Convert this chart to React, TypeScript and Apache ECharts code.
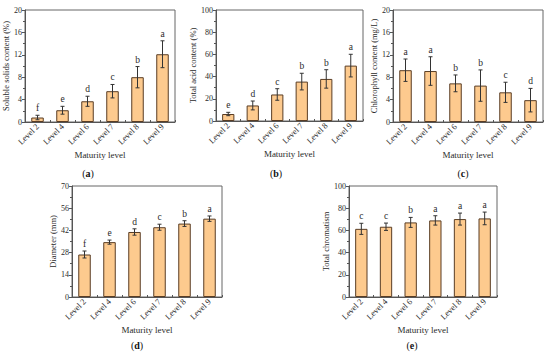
import React, { useEffect, useRef } from "react";
import * as echarts from "echarts";

const categories = ["Level 2", "Level 4", "Level 6", "Level 7", "Level 8", "Level 9"];

const solubleMeans = [0.8, 2.1, 3.7, 5.5, 8.0, 12.1];
const solubleErr = [0.4, 0.7, 0.9, 1.2, 1.9, 2.4];
const solubleLetters = ["f", "e", "d", "c", "b", "a"];

const acidMeans = [6.3, 14.0, 23.9, 35.5, 37.9, 49.9];
const acidErr = [1.5, 4.0, 5.2, 7.5, 8.3, 10.2];
const acidLetters = ["e", "d", "c", "b", "b", "a"];

const chloroMeans = [9.25, 9.1, 6.9, 6.5, 5.3, 3.9];
const chloroErr = [2.0, 2.55, 1.5, 2.8, 1.8, 2.1];
const chloroLetters = ["a", "a", "b", "b", "c", "d"];

const diameterMeans = [26.8, 34.6, 41.0, 44.0, 46.3, 49.4];
const diameterErr = [2.2, 1.3, 2.0, 1.9, 1.8, 1.7];
const diameterLetters = ["f", "e", "d", "c", "b", "a"];

const chromaMeans = [61.4, 63.3, 67.2, 69.0, 70.2, 70.8];
const chromaErr = [5.0, 3.3, 4.5, 4.2, 5.4, 5.7];
const chromaLetters = ["c", "c", "b", "a", "a", "a"];

const FONT = '"Liberation Serif", "DejaVu Serif", serif';
const BAR_FILL = "#FDCA8E";
const BAR_EDGE = "#5a3d24";
const INK = "#2a2a2a";

type Panel = {
  tag: string;
  yName: string;
  max: number;
  interval: number;
  means: number[];
  errs: number[];
  letters: string[];
  grid: { left: number; top: number; width: number; height: number };
  yNameGap: number;
  tagPos: [number, number];
};

const panels: Panel[] = [
  {
    tag: "a", yName: "Soluble solids content (%)", max: 20, interval: 4,
    means: solubleMeans, errs: solubleErr, letters: solubleLetters,
    grid: { left: 25, top: 10, width: 150, height: 112 }, yNameGap: 11, tagPos: [88, 173],
  },
  {
    tag: "b", yName: "Total acid content (%)", max: 100, interval: 20,
    means: acidMeans, errs: acidErr, letters: acidLetters,
    grid: { left: 216, top: 10, width: 147, height: 111 }, yNameGap: 18, tagPos: [276, 173],
  },
  {
    tag: "c", yName: "Chlorophyll content (mg/L)", max: 20, interval: 4,
    means: chloroMeans, errs: chloroErr, letters: chloroLetters,
    grid: { left: 393, top: 10, width: 150, height: 112 }, yNameGap: 9, tagPos: [463, 173],
  },
  {
    tag: "d", yName: "Diameter (mm)", max: 70, interval: 14,
    means: diameterMeans, errs: diameterErr, letters: diameterLetters,
    grid: { left: 72, top: 186, width: 150, height: 111 }, yNameGap: 15, tagPos: [137, 345],
  },
  {
    tag: "e", yName: "Total chromatism", max: 100, interval: 20,
    means: chromaMeans, errs: chromaErr, letters: chromaLetters,
    grid: { left: 349, top: 186, width: 148, height: 111 }, yNameGap: 18, tagPos: [412, 345],
  },
];

export default function App() {
  const ref = useRef<HTMLDivElement>(null);

  useEffect(() => {
    if (!ref.current) return;
    const chart = echarts.init(ref.current, undefined, { renderer: "svg" });

    const grid: any[] = [];
    const xAxis: any[] = [];
    const yAxis: any[] = [];
    const series: any[] = [];
    const graphic: any[] = [];

    panels.forEach((p, i) => {
      grid.push({
        ...p.grid,
        show: true,
        borderColor: "#666",
        borderWidth: 1,
        backgroundColor: "transparent",
      });
      xAxis.push({
        type: "category",
        gridIndex: i,
        data: categories,
        name: "Maturity level",
        nameLocation: "middle",
        nameGap: 28,
        nameTextStyle: { fontFamily: FONT, fontSize: 9, color: INK },
        axisLine: { lineStyle: { color: "#555", width: 1 } },
        axisTick: { show: true, length: 2, inside: true, lineStyle: { color: "#555" } },
        axisLabel: {
          rotate: 45,
          fontFamily: FONT,
          fontSize: 8.5,
          color: INK,
          margin: 3,
          interval: 0,
        },
      });
      yAxis.push({
        type: "value",
        gridIndex: i,
        min: 0,
        max: p.max,
        interval: p.interval,
        name: p.yName,
        nameLocation: "middle",
        nameGap: p.yNameGap,
        nameTextStyle: { fontFamily: FONT, fontSize: 8.5, color: INK },
        axisLine: { show: true, lineStyle: { color: "#555", width: 1 } },
        axisTick: { show: true, length: 3, lineStyle: { color: "#555" } },
        minorTick: { show: true, splitNumber: 2, length: 2, lineStyle: { color: "#555" } },
        splitLine: { show: false },
        axisLabel: { fontFamily: FONT, fontSize: 8, color: INK, margin: 3 },
      });
      series.push({
        type: "bar",
        xAxisIndex: i,
        yAxisIndex: i,
        data: p.means,
        barWidth: "50%",
        itemStyle: { color: BAR_FILL, borderColor: BAR_EDGE, borderWidth: 1 },
        z: 2,
      });
      const letters = p.letters;
      series.push({
        type: "custom",
        xAxisIndex: i,
        yAxisIndex: i,
        z: 5,
        data: p.means.map((m, k) => [k, m, p.errs[k]]),
        renderItem: (params: any, api: any) => {
          const x = api.value(0);
          const m = api.value(1);
          const e = api.value(2);
          const top = api.coord([x, m + e]);
          const bot = api.coord([x, m - e]);
          const cap = 2;
          const st = { stroke: "#333", lineWidth: 1 };
          return {
            type: "group",
            children: [
              { type: "line", shape: { x1: top[0], y1: top[1], x2: bot[0], y2: bot[1] }, style: st },
              { type: "line", shape: { x1: top[0] - cap, y1: top[1], x2: top[0] + cap, y2: top[1] }, style: st },
              { type: "line", shape: { x1: bot[0] - cap, y1: bot[1], x2: bot[0] + cap, y2: bot[1] }, style: st },
              {
                type: "text",
                x: top[0],
                y: top[1] - 2,
                style: {
                  text: letters[params.dataIndex],
                  fill: INK,
                  fontFamily: FONT,
                  fontSize: 9.5,
                  align: "center",
                  verticalAlign: "bottom",
                },
              },
            ],
          };
        },
      });
      graphic.push({
        type: "text",
        x: p.tagPos[0],
        y: p.tagPos[1],
        style: {
          text: "({b|" + p.tag + "})",
          fill: "#111",
          fontFamily: FONT,
          fontSize: 10,
          align: "center",
          verticalAlign: "middle",
          rich: { b: { fontWeight: "bold", fontFamily: FONT, fontSize: 10, fill: "#111" } },
        },
      });
    });

    chart.setOption({
      animation: false,
      backgroundColor: "#ffffff",
      grid,
      xAxis,
      yAxis,
      series,
      graphic,
    });

    return () => chart.dispose();
  }, []);

  return (
    <div
      ref={ref}
      style={{ position: "absolute", left: 0, top: 0, width: 550, height: 357 }}
    />
  );
}
